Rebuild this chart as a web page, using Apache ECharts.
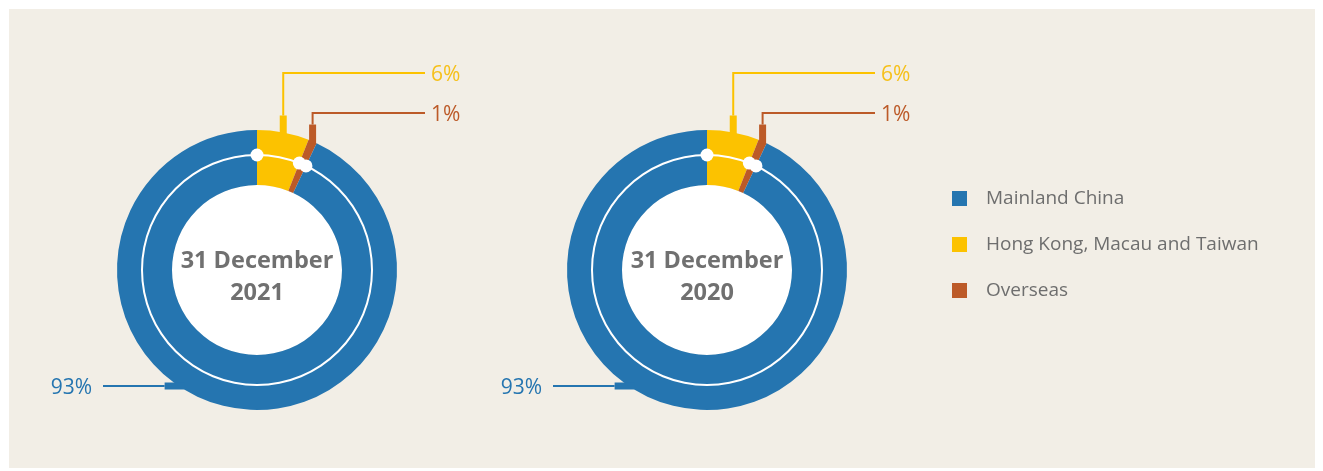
<!DOCTYPE html>
<html><head><meta charset="utf-8">
<script src="https://cdn.jsdelivr.net/npm/echarts@6/dist/echarts.min.js"></script>
<style>
html,body{margin:0;padding:0;background:#ffffff;}
#panel{position:absolute;left:9px;top:9px;width:1306px;height:459px;background:#f2eee6;}
#chart{position:absolute;left:0;top:0;width:1323px;height:471px;}
</style></head><body>
<div id="panel"></div><div id="chart"></div>
<script>
// ---- data ----
const categories = ['Hong Kong, Macau and Taiwan', 'Overseas', 'Mainland China'];
const legendOrder = ['Mainland China', 'Hong Kong, Macau and Taiwan', 'Overseas'];
const periods = ['31 December\n2021', '31 December\n2020'];
const values2021 = [6, 1, 93];
const values2020 = [6, 1, 93];
const seriesValues = [values2021, values2020];

// ---- style ----
const categoryColors = ['#fcc200', '#bc5a28', '#2575b0'];
const labelColors = ['#f6c01a', '#bc5a28', '#2575b0'];
const FONT = 'Open Sans';
const centers = [[257, 270], [707, 270]];
const R_IN = 85, R_OUT = 140, R_RING = 115;
const topLineY = [73, 113];

function midAnchor(c, vals, i) {
  const total = vals.reduce((a, b) => a + b, 0);
  let cum = 0;
  for (let j = 0; j < i; j++) cum += vals[j];
  const a = (cum + vals[i] / 2) / total * 2 * Math.PI;
  return [c[0] + R_OUT * Math.sin(a), c[1] - R_OUT * Math.cos(a)];
}
function sideAnchor(c) {
  const dy = 116;
  return [c[0] - Math.sqrt(R_OUT * R_OUT - dy * dy), c[1] + dy];
}

function mainLayout(k) {
  const c = centers[k], vals = seriesValues[k];
  return function (p) {
    const i = p.dataIndex;
    if (i < 2) {
      const an = midAnchor(c, vals, i);
      const top = an[1] - 17;
      const ly = topLineY[i];
      return {
        x: c[0] + 174, y: ly + 2.5, align: 'left', verticalAlign: 'middle',
        labelLinePoints: [[an[0], top], [an[0], ly], [c[0] + 168, ly]]
      };
    }
    const an = sideAnchor(c);
    return {
      x: c[0] - 165, y: an[1] + 2, align: 'right', verticalAlign: 'middle',
      labelLinePoints: [[an[0] - 14, an[1]], [c[0] - 154, an[1]]]
    };
  };
}
function stubLayout(k) {
  const c = centers[k], vals = seriesValues[k];
  return function (p) {
    const i = p.dataIndex;
    if (i < 2) {
      const an = midAnchor(c, vals, i);
      return { labelLinePoints: [[an[0], an[1] + 2], [an[0], an[1] - 17]] };
    }
    const an = sideAnchor(c);
    return { labelLinePoints: [[an[0] + 6, an[1]], [an[0] - 14, an[1]]] };
  };
}

const series = [];
const polar = [];
const angleAxis = [];
const radiusAxis = [];
periods.forEach((title, k) => {
  const c = centers[k], vals = seriesValues[k];
  // center disk with title
  series.push({
    type: 'pie', silent: true, center: c, radius: [0, R_IN], z: 1,
    label: { show: true, position: 'center', formatter: title, fontFamily: FONT,
      fontSize: 23.5, fontWeight: 'bold', color: '#707070', lineHeight: 32 },
    labelLine: { show: false },
    labelLayout: { x: c[0], y: c[1] + 7, align: 'center', verticalAlign: 'middle' },
    data: [{ name: 'center' + k, value: 1, itemStyle: { color: '#ffffff' } }]
  });
  // main donut
  series.push({
    type: 'pie', silent: true, center: c, radius: [R_IN, R_OUT], z: 2,
    startAngle: 90, clockwise: true, avoidLabelOverlap: false,
    label: { show: true, formatter: '{c}%', fontFamily: FONT, fontSize: 21 },
    labelLine: { show: true, lineStyle: { width: 2 } },
    labelLayout: mainLayout(k),
    data: categories.map((n, i) => ({
      name: n, value: vals[i],
      itemStyle: { color: categoryColors[i] },
      label: { color: labelColors[i] },
      labelLine: { lineStyle: { color: categoryColors[i], width: 2 } }
    }))
  });
  // thick stubs of leader lines
  series.push({
    type: 'pie', silent: true, center: c, radius: [R_IN, R_OUT], z: 3,
    startAngle: 90, clockwise: true, avoidLabelOverlap: false,
    label: { show: true, formatter: '{c}', color: 'rgba(0,0,0,0)', fontSize: 10 },
    labelLine: { show: true, lineStyle: { width: 7, cap: 'butt' } },
    labelLayout: stubLayout(k),
    data: categories.map((n, i) => ({
      name: n, value: vals[i],
      itemStyle: { color: 'rgba(0,0,0,0)' },
      labelLine: { lineStyle: { color: categoryColors[i], width: 7 } }
    }))
  });
  // thin white ring
  series.push({
    type: 'pie', silent: true, center: c, radius: [R_RING - 1, R_RING + 1], z: 4,
    label: { show: false }, labelLine: { show: false },
    data: [{ name: 'ring' + k, value: 1, itemStyle: { color: '#ffffff' } }]
  });
  // dots at segment boundaries
  polar.push({ center: c, radius: [0, R_RING] });
  angleAxis.push({ polarIndex: k, type: 'value', min: 0, max: vals.reduce((a, b) => a + b, 0),
    startAngle: 90, clockwise: true, show: false });
  radiusAxis.push({ polarIndex: k, type: 'value', min: 0, max: 1, show: false });
  let cum = 0;
  const dots = [];
  for (let i = 0; i < vals.length - 1; i++) { dots.push([1, cum]); cum += vals[i]; }
  dots.push([1, cum]);
  series.push({
    type: 'scatter', coordinateSystem: 'polar', polarIndex: k, silent: true, z: 5,
    symbol: 'circle', symbolSize: 13, itemStyle: { color: '#ffffff', opacity: 1 },
    data: dots
  });
});

const chart = echarts.init(document.getElementById('chart'), null, { renderer: 'canvas' });
chart.setOption({
  animation: false,
  backgroundColor: 'transparent',
  legend: {
    data: legendOrder, orient: 'vertical', left: 947, top: 184,
    icon: 'rect', itemWidth: 15, itemHeight: 15, itemGap: 27,
    selectedMode: false,
    textStyle: { fontFamily: FONT, fontSize: 19, color: '#6e6e6e', padding: [0, 0, 0, 14] }
  },
  polar: polar, angleAxis: angleAxis, radiusAxis: radiusAxis,
  series: series
});
</script></body></html>
